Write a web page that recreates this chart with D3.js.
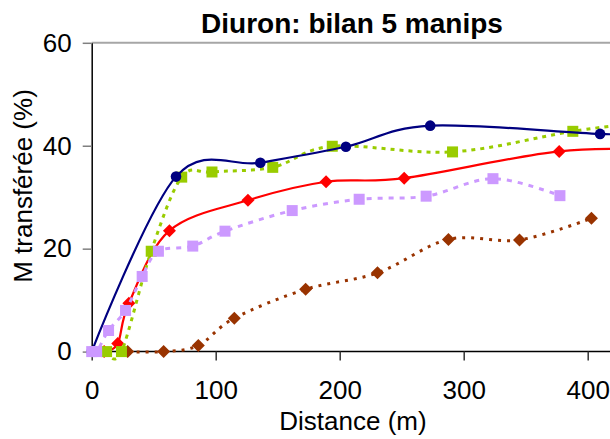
<!DOCTYPE html>
<html>
<head>
<meta charset="utf-8">
<script src="https://cdn.jsdelivr.net/npm/d3@7"></script>
<style>
  html, body { margin: 0; padding: 0; background: #fff; }
  svg { display: block; font-family: "Liberation Sans", Arial, sans-serif; }
</style>
</head>
<body>
<svg id="chart" width="610" height="439"></svg>
<script>
// Tick values
const xTicks = [0, 100, 200, 300, 400];
const yTicks = [0, 20, 40, 60];

// Five experiments: distance (m) and transferred mass (%)
const navyX = [0, 68, 136, 205, 273, 410, 470];
const navyY = [0, 34.0, 36.7, 39.8, 43.9, 42.3, 42.0];

const greenX = [12, 24, 48, 72.6, 97, 146, 194, 291, 388, 460];
const greenY = [0, 0, 19.5, 33.9, 34.9, 35.8, 39.9, 38.8, 42.8, 45.0];

const redX = [10, 21, 30, 62.7, 126, 189, 252, 377, 470];
const redY = [0, 1.55, 9.4, 23.5, 29.4, 33.0, 33.7, 38.9, 39.2];

const lilacX = [0, 4, 13.6, 27.3, 40.7, 53.8, 81.5, 107.5, 161.7, 215.7, 269.7, 323.6, 377.6];
const lilacY = [0, 0, 4.1, 8.0, 14.6, 19.5, 20.5, 23.4, 27.4, 29.6, 30.2, 33.6, 30.3];

const brownX = [29, 58, 86, 115, 172.5, 230.5, 287.7, 345, 403];
const brownY = [0, 0, 1.2, 6.5, 12.1, 15.3, 21.8, 21.7, 25.9];

const svg = d3.select("#chart");
const W = 610;
const x = d3.scaleLinear().domain([0, 400]).range([91.7, 587.7]);
const y = d3.scaleLinear().domain([0, 60]).range([351.6, 42.8]);

// Title
svg.append("text")
  .attr("x", 352).attr("y", 33)
  .attr("text-anchor", "middle")
  .attr("font-size", 28).attr("font-weight", "bold")
  .text("Diuron: bilan 5 manips");

// Top border of plot area
svg.append("line")
  .attr("x1", x(0)).attr("x2", W)
  .attr("y1", y(60)).attr("y2", y(60))
  .attr("stroke", "#a6a6a6").attr("stroke-width", 2);

// Y axis
const yAxis = svg.append("g").attr("transform", `translate(${x(0)},0)`)
  .call(d3.axisLeft(y).tickValues(yTicks).tickSize(9).tickPadding(11).tickSizeOuter(0));
yAxis.select(".domain").attr("stroke", "#000").attr("stroke-width", 1.5);
yAxis.selectAll(".tick line").attr("stroke", "#808080").attr("stroke-width", 1.5);
yAxis.selectAll(".tick text").attr("font-size", 26).attr("fill", "#000")
  .attr("font-family", "Liberation Sans, Arial, sans-serif");

// X axis
const xAxis = svg.append("g").attr("transform", `translate(0,${y(0)})`)
  .call(d3.axisBottom(x).tickValues(xTicks).tickSize(9).tickPadding(20).tickSizeOuter(0));
xAxis.select(".domain").attr("d", `M${x(0)},0H${W}`).attr("stroke", "#000").attr("stroke-width", 1.5);
xAxis.selectAll(".tick line").attr("stroke", "#333").attr("stroke-width", 1.5);
xAxis.selectAll(".tick text").attr("font-size", 26).attr("fill", "#000")
  .attr("font-family", "Liberation Sans, Arial, sans-serif");

// Axis titles
svg.append("text")
  .attr("x", 353).attr("y", 430)
  .attr("text-anchor", "middle").attr("font-size", 26)
  .text("Distance (m)");
svg.append("text")
  .attr("transform", "translate(32,186) rotate(-90)")
  .attr("text-anchor", "middle").attr("font-size", 26)
  .text("M transférée (%)");

// Plot clip
svg.append("defs").append("clipPath").attr("id", "plot")
  .append("rect").attr("x", x(0) - 10).attr("y", y(60) - 10)
  .attr("width", W - x(0) + 10).attr("height", y(0) - y(60) + 20);

const plot = svg.append("g").attr("clip-path", "url(#plot)");
const line = d3.line().x(d => x(d[0])).y(d => y(d[1])).curve(d3.curveCardinal.tension(0));

const series = [
  { xs: brownX, ys: brownY, color: "#993300", dash: "3,6", width: 3, marker: "diamond", size: 6.5 },
  { xs: redX, ys: redY, color: "#ff0000", dash: null, width: 2.2, marker: "diamond", size: 6.5 },
  { xs: greenX, ys: greenY, color: "#99cc00", dash: "4,5", width: 3, marker: "square", size: 5.5 },
  { xs: navyX, ys: navyY, color: "#000080", dash: null, width: 2.2, marker: "circle", size: 5.3 },
  { xs: lilacX, ys: lilacY, color: "#cc99ff", dash: "5,6", width: 3, marker: "square", size: 5.5 }
];

series.forEach(s => {
  const pts = s.xs.map((v, i) => [v, s.ys[i]]);
  const g = plot.append("g");
  g.append("path").datum(pts)
    .attr("d", line)
    .attr("fill", "none")
    .attr("stroke", s.color)
    .attr("stroke-width", s.width)
    .attr("stroke-dasharray", s.dash);
  const m = g.selectAll(".m").data(pts).enter();
  if (s.marker === "circle") {
    m.append("circle").attr("cx", d => x(d[0])).attr("cy", d => y(d[1]))
      .attr("r", s.size).attr("fill", s.color);
  } else if (s.marker === "square") {
    m.append("rect").attr("x", d => x(d[0]) - s.size).attr("y", d => y(d[1]) - s.size)
      .attr("width", 2 * s.size).attr("height", 2 * s.size).attr("fill", s.color);
  } else {
    m.append("path")
      .attr("d", d => {
        const cx = x(d[0]), cy = y(d[1]), r = s.size;
        return `M${cx},${cy - r}L${cx + r},${cy}L${cx},${cy + r}L${cx - r},${cy}Z`;
      })
      .attr("fill", s.color);
  }
});
</script>
</body>
</html>
